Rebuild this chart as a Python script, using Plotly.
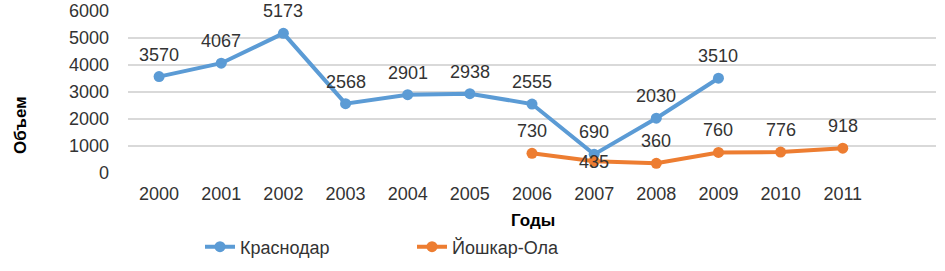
import plotly.graph_objects as go

years = ["2000", "2001", "2002", "2003", "2004", "2005", "2006", "2007", "2008", "2009", "2010", "2011"]
krasnodar = [3570, 4067, 5173, 2568, 2901, 2938, 2555, 690, 2030, 3510, None, None]
yoshkar = [None, None, None, None, None, None, 730, 435, 360, 760, 776, 918]
yoshkar_label_shift = [0, 0, 0, 0, 0, 0, 22, -1, 22, 22, 22, 22]

BLUE = "#5B9BD5"
ORANGE = "#ED7D31"
TXT = "#333333"
FONT = "Liberation Sans, Arial, sans-serif"
FS = 18

L, T = 128, 11
W, H = 945, 271
PW, PH = 808, 162

xs = list(range(len(years)))
fig = go.Figure()
fig.add_trace(go.Scatter(x=xs, y=krasnodar, mode="lines+markers", name="Краснодар",
                         line=dict(color=BLUE, width=4), marker=dict(size=11, color=BLUE),
                         connectgaps=False))
fig.add_trace(go.Scatter(x=xs, y=yoshkar, mode="lines+markers", name="Йошкар-Ола",
                         line=dict(color=ORANGE, width=4), marker=dict(size=11, color=ORANGE),
                         connectgaps=False))

anns = []
for i, v in enumerate(krasnodar):
    if v is not None:
        anns.append(dict(x=i, y=v, text=str(v), showarrow=False, yshift=22,
                         font=dict(size=FS, color=TXT, family=FONT)))
for i, v in enumerate(yoshkar):
    if v is not None:
        anns.append(dict(x=i, y=v, text=str(v), showarrow=False, yshift=yoshkar_label_shift[i],
                         font=dict(size=FS, color=TXT, family=FONT)))
anns.append(dict(xref="paper", yref="paper", x=(533 - 128) / PW, y=(173 - 220) / PH,
                 xanchor="center", yanchor="middle",
                 text="<b>Годы</b>", showarrow=False, font=dict(size=FS - 1, color="#000", family=FONT)))
anns.append(dict(xref="paper", yref="paper", x=(20 - 128) / PW, y=(173 - 125) / PH,
                 xanchor="center", yanchor="middle",
                 text="<b>Объем</b>", textangle=-90, showarrow=False,
                 font=dict(size=FS - 1, color="#000", family=FONT)))

fig.update_layout(
    width=W, height=H,
    margin=dict(l=L, r=W - L - PW, t=T, b=H - T - PH, autoexpand=False),
    paper_bgcolor="white", plot_bgcolor="white",
    font=dict(family=FONT, size=FS, color=TXT),
    annotations=anns,
    showlegend=True,
    legend=dict(orientation="h", x=(200 - 128) / PW, y=(173 - 247) / PH, yanchor="middle",
                xanchor="left", entrywidth=167, entrywidthmode="pixels",
                font=dict(size=FS, color=TXT, family=FONT)),
    xaxis=dict(range=[-0.5, 12.5], tickmode="array", tickvals=xs, ticktext=years,
               showgrid=False, zeroline=False, showline=False, ticks="", automargin=False,
               ticklabelstandoff=8, tickfont=dict(size=FS, color=TXT)),
    yaxis=dict(range=[0, 6000], tickvals=[0, 1000, 2000, 3000, 4000, 5000, 6000],
               showgrid=True, gridcolor="#D9D9D9", gridwidth=1.5, zeroline=False, automargin=False,
               showline=False, ticks="", ticklabelstandoff=18, tickfont=dict(size=FS, color=TXT)),
)

fig.write_html("out.html", config={"displayModeBar": False},
               post_script="document.body.style.margin='0';")
